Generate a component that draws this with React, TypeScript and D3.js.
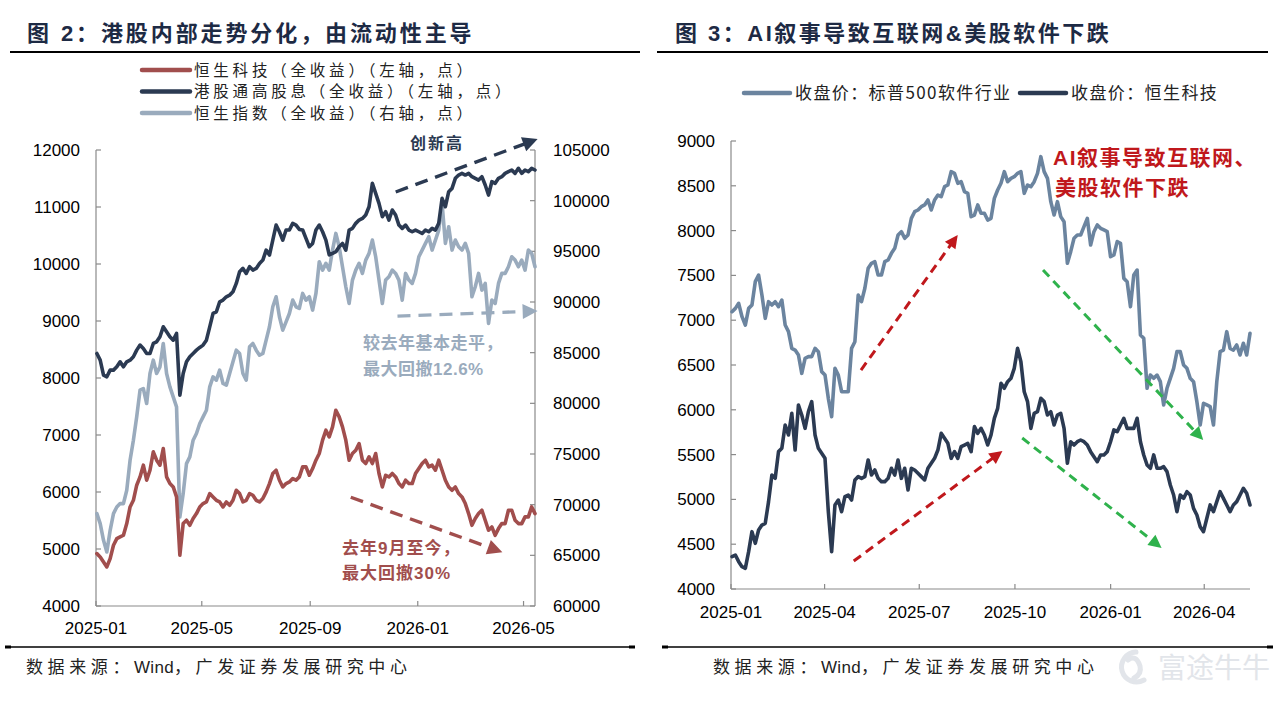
import React from 'react';
import * as d3 from 'd3';

// ---------- Left panel: Hang Seng family, total-return indices ----------
const leftStart = '2025-01-02';
const leftEnd = '2026-05-14';

// 恒生科技（全收益）, left axis
const hsTechTR = [
  4919, 4861, 4773, 4685, 4831, 5065, 5182, 5212, 5241, 5446,
  5738, 5855, 6119, 6265, 6470, 6207, 6382, 6704, 6558, 6470,
  6762, 6265, 6148, 6089, 5914, 4890, 5446, 5504, 5416, 5534,
  5621, 5738, 5797, 5826, 5972, 5914, 5855, 5826, 5738, 5826,
  5768, 5855, 6031, 5972, 5826, 5855, 5972, 5943, 5855, 5826,
  5885, 6002, 6148, 6324, 6382, 6207, 6089, 6148, 6177, 6236,
  6207, 6265, 6441, 6441, 6294, 6411, 6558, 6675,
  6909, 7084, 6967, 7143, 7435, 7318, 7143, 6909, 6558, 6675,
  6733, 6850, 6558, 6499, 6616, 6499, 6675, 6324, 6089, 6294,
  6265, 6324, 6265, 6148, 6089, 6207, 6148, 6148, 6324, 6411,
  6499, 6558, 6441, 6470, 6382, 6558, 6382, 6207, 6089, 6031,
  6089, 5972, 5914, 5797, 5621, 5416, 5534, 5621, 5680, 5504,
  5329, 5387, 5241, 5358, 5446, 5446, 5680, 5680, 5504, 5446,
  5446, 5563, 5563, 5738, 5621,
];

// 港股通高股息（全收益）, left axis
const hkHighDivTR = [
  8430, 8313, 8050, 8021, 8138, 8138, 8196, 8284, 8196, 8284,
  8313, 8372, 8489, 8577, 8518, 8430, 8430, 8606, 8635, 8723,
  8898, 8811, 8723, 8664, 8781, 7699, 8079, 8284, 8372, 8430,
  8489, 8536, 8577, 8664, 8898, 9133, 9162, 9337, 9367, 9425,
  9454, 9513, 9659, 9864, 9923, 9835, 9952, 9893, 9923, 10010,
  10069, 10244, 10157, 10420, 10683, 10566, 10420, 10596, 10596, 10713,
  10683, 10607, 10596, 10449, 10303, 10361, 10596, 10683,
  10566, 10420, 10160, 10186, 10215, 10303, 10361, 10244, 10596, 10625,
  10713, 10771, 10800, 10859, 11005, 11415, 11239, 11064, 10830, 10917,
  10771, 10947, 10859, 10683, 10625, 10683, 10596, 10566, 10596, 10566,
  10537, 10596, 10566, 10625, 10596, 10713, 11151, 11005, 11269, 11327,
  11503, 11561, 11590, 11561, 11590, 11532, 11503, 11473, 11532, 11386,
  11210, 11444, 11415, 11503, 11532, 11590, 11620, 11649, 11590, 11678,
  11590, 11649, 11620, 11678, 11649,
];

// 恒生指数（全收益）, right axis
const hsiTR = [
  69117, 68130, 66484, 65331, 67471, 69117, 69776, 70105, 70105, 71422,
  74384, 76360, 78664, 81298, 81462, 79981, 82944, 84260, 82944, 83602,
  85906, 82944, 81627, 80639, 79652, 68788, 71093, 74055, 74713, 76360,
  77018, 78006, 78664, 79322, 81627, 82614, 82285, 83273, 81956, 81791,
  82944, 84096, 85248, 84919, 82944, 82285, 85577, 85906, 85248, 84754,
  84919, 86236, 87552, 89528, 90515, 88540, 87223, 88046, 88869, 90186,
  89528, 89363, 90844, 90186, 90515, 89198, 90844, 93972,
  93149, 93807, 93149, 95124, 96770, 95453, 93478, 91503, 89857, 92161,
  93149, 93807, 92820, 94136, 94795, 96112, 94466, 92161, 89857, 92161,
  92490, 93149, 92820, 92161, 90186, 92820, 92161, 91832, 92820, 94466,
  95124, 95782, 96441, 95124, 96112, 97099, 99733, 95782, 97428, 95124,
  96112, 95453, 95124, 95782, 94795, 90515, 91503, 92820, 91174, 91832,
  87882, 90186, 89857, 91832, 92820, 92820, 93478, 94466, 94136, 93478,
  94136, 93149, 95124, 94795, 93478,
];

const leftXTicks = ['2025-01', '2025-05', '2025-09', '2026-01', '2026-05'];
const leftYTicks = [4000, 5000, 6000, 7000, 8000, 9000, 10000, 11000, 12000];
const leftY2Ticks = [60000, 65000, 70000, 75000, 80000, 85000, 90000, 95000, 100000, 105000];

const leftLegend = [
  '恒生科技（全收益）（左轴，点）',
  '港股通高股息（全收益）（左轴，点）',
  '恒生指数（全收益）（右轴，点）',
];

// ---------- Right panel: closing prices ----------
const rightStart = '2025-01-02';
const rightEnd = '2026-05-15';

// 收盘价：标普500软件行业
const spSoftwareClose = [
  7095, 7132, 7188, 7039, 6946, 7132, 7170, 7430, 7504, 7281,
  7021, 7207, 7170, 7207, 7151, 7225, 6946, 6872, 6686, 6667,
  6612, 6407, 6574, 6593, 6593, 6686, 6649, 6426, 6388, 6128,
  5923, 6463, 6388, 6202, 6202, 6202, 6686, 6760, 7281, 7207,
  7356, 7579, 7635, 7653, 7504, 7504, 7653, 7672, 7746, 7802,
  7951, 7988, 7914, 7951, 8137, 8211, 8230, 8267, 8286, 8342,
  8230, 8342, 8397, 8379, 8490, 8509, 8658, 8639, 8528, 8546,
  8435, 8416, 8156, 8174, 8286, 8193, 8193, 8118,
  8137, 8360, 8453, 8528, 8658, 8546, 8583, 8602, 8639, 8658,
  8416, 8509, 8490, 8546, 8639, 8825, 8658, 8583, 8323, 8174,
  8323, 8156, 8100, 7635, 7765, 7914, 7951, 7951, 8044, 8137,
  7839, 7988, 8063, 8025, 8007, 7988, 7709, 7728, 7877, 7858,
  7467, 7430, 7151, 7504, 7560, 6835, 6798, 6240, 6388, 6351,
  6388, 6314, 6054, 6240, 6351, 6463, 6649, 6649, 6500, 6463,
  6351, 6314, 6091, 5830, 6072, 6054, 6035, 5830, 6314, 6649,
  6667, 6872, 6686, 6667, 6723, 6612, 6742, 6612, 6853,
];

// 收盘价：恒生科技
const hsTechClose = [
  4361, 4379, 4305, 4249, 4231, 4417, 4640, 4510, 4659, 4714,
  4733, 4975, 5272, 5235, 5533, 5570, 5830, 5719, 5961, 5551,
  6054, 5942, 5793, 5979, 6091, 5719, 5570, 5514, 5458, 4863,
  4417, 4938, 4993, 4863, 5031, 5049, 4993, 5217, 5254, 5235,
  5254, 5440, 5272, 5328, 5235, 5198, 5198, 5235, 5347, 5272,
  5440, 5235, 5347, 5105, 5347, 5328, 5291, 5254, 5217, 5347,
  5403, 5458, 5551, 5737, 5682, 5626, 5458, 5533, 5458, 5589,
  5607, 5626, 5533, 5812, 5737, 5793, 5719, 5607,
  5719, 5905, 6016, 6295, 6240, 6314, 6351, 6463, 6686, 6537,
  6202, 6091, 5793, 5961, 5979, 6128, 6091, 5942, 5979, 5830,
  5942, 5961, 5793, 5403, 5644, 5607, 5644, 5663, 5644, 5607,
  5533, 5477, 5421, 5496, 5496, 5533, 5644, 5775, 5756, 5830,
  5905, 5793, 5793, 5793, 5905, 5644, 5496, 5384, 5347, 5496,
  5347, 5347, 5365, 5310, 5161, 5049, 4863, 5049, 5012, 5086,
  5049, 4900, 4826, 4696, 4640, 4789, 4938, 4863, 4975, 5086,
  5012, 4938, 4863, 4938, 4975, 5049, 5123, 5068, 4938,
];

const rightXTicks = ['2025-01', '2025-04', '2025-07', '2025-10', '2026-01', '2026-04'];
const rightYTicks = [4000, 4500, 5000, 5500, 6000, 6500, 7000, 7500, 8000, 8500, 9000];
const rightLegend = ['收盘价：标普500软件行业', '收盘价：恒生科技'];

// Trend arrows, anchored in (date, value) space of each panel's left axis
const leftArrows = [
  { from: ['2025-12-07', 11263], to: ['2026-05-17', 12193], key: 'high' },
  { from: ['2025-12-09', 9086], to: ['2026-05-17', 9174], key: 'flat' },
  { from: ['2025-10-17', 5908], to: ['2026-04-07', 4943], key: 'down' },
] as const;

const rightArrows = [
  { from: ['2025-05-06', 6444], to: ['2025-08-07', 7951], key: 'up' },
  { from: ['2025-04-29', 4312], to: ['2025-09-19', 5540], key: 'up' },
  { from: ['2025-10-28', 7560], to: ['2026-03-31', 5663], key: 'fall' },
  { from: ['2025-10-08', 5685], to: ['2026-02-19', 4458], key: 'fall' },
] as const;

// ---------- helpers ----------
const parseDay = d3.timeParse('%Y-%m-%d');
const parseMonth = d3.timeParse('%Y-%m');

function spreadDates(start: string, end: string, n: number): Date[] {
  const t0 = parseDay(start)!.getTime();
  const t1 = parseDay(end)!.getTime();
  return d3.range(n).map((i) => new Date(t0 + ((t1 - t0) * i) / (n - 1)));
}

const FONT = "'Liberation Sans', Arial, 'Noto Sans CJK SC', sans-serif";
const CJK = "'Noto Sans CJK SC', 'Liberation Sans', sans-serif";

const C = {
  navy: '#2b3a52',
  red: '#a14e4d',
  gray: '#9aabbd',
  steel: '#6b849f',
  axis: '#8a8a8a',
  title: '#1d2a44',
  arrowRed: '#c0181c',
  green: '#2fb24c',
  text: '#222222',
};

function DashArrow(props: {
  x1: number; y1: number; x2: number; y2: number;
  color: string; width: number; dash: string; head: number; headW: number;
}) {
  const { x1, y1, x2, y2, color, width, dash, head, headW } = props;
  const dx = x2 - x1;
  const dy = y2 - y1;
  const len = Math.hypot(dx, dy);
  const ux = dx / len;
  const uy = dy / len;
  const bx = x2 - ux * head;
  const by = y2 - uy * head;
  const px = -uy * headW;
  const py = ux * headW;
  return (
    <g>
      <line x1={x1} y1={y1} x2={bx + ux * 2} y2={by + uy * 2} stroke={color} strokeWidth={width} strokeDasharray={dash} />
      <polygon points={`${x2},${y2} ${bx + px},${by + py} ${bx - px},${by - py}`} fill={color} />
    </g>
  );
}

function Rule({ x1, x2, y, w }: { x1: number; x2: number; y: number; w: number }) {
  return <line x1={x1} x2={x2} y1={y} y2={y} stroke="#000" strokeWidth={w} />;
}

// Source line: CJK glyphs spaced out, the Latin word kept tight
function SourceNote({ x, y }: { x: number; y: number }) {
  return (
    <text x={x} y={y} fontFamily={FONT} fontSize={17} fill={C.text}>
      <tspan letterSpacing={4.6}>数据来源：</tspan>
      <tspan letterSpacing={0.3}>Wind</tspan>
      <tspan letterSpacing={4.6}>，广发证券发展研究中心</tspan>
    </text>
  );
}

function LeftPanel() {
  const dates = spreadDates(leftStart, leftEnd, hsTechTR.length);
  const x = d3.scaleTime().domain([parseDay('2025-01-01')!, parseDay('2026-05-14')!]).range([96, 535]);
  const y = d3.scaleLinear().domain([4000, 12000]).range([606, 150]);
  const y2 = d3.scaleLinear().domain([60000, 105000]).range([606, 150]);

  const lineL = d3.line<number>().x((_, i) => x(dates[i])).y((d) => y(d));
  const lineR = d3.line<number>().x((_, i) => x(dates[i])).y((d) => y2(d));

  const arrowColor: Record<string, string> = { high: C.navy, flat: C.gray, down: C.red };
  const [x0, x1] = x.range();
  const [yb, yt] = y.range();

  return (
    <g>
      {/* title */}
      <text x={27} y={41} fontFamily={FONT} fontSize={22} fontWeight={700} fill={C.title} letterSpacing={2.9}>
        图 2：港股内部走势分化，由流动性主导
      </text>
      <Rule x1={10} x2={640} y={52} w={2.2} />

      {/* legend */}
      {leftLegend.map((label, i) => {
        const cy = 70 + i * 21.5;
        const col = [C.red, C.navy, C.gray][i];
        return (
          <g key={label}>
            <line x1={142} x2={190} y1={cy} y2={cy} stroke={col} strokeWidth={4.5} strokeLinecap="round" />
            <text x={194} y={cy + 5.5} fontFamily={CJK} fontSize={15.5} fill={C.text} letterSpacing={3.8}>
              {label}
            </text>
          </g>
        );
      })}

      {/* axes */}
      <g stroke={C.axis} strokeWidth={1.2} fill="none">
        <line x1={x0} x2={x0} y1={yt} y2={yb} />
        <line x1={x1} x2={x1} y1={yt} y2={yb} />
        <line x1={x0} x2={x1} y1={yb} y2={yb} />
        {leftYTicks.map((t) => (
          <line key={'l' + t} x1={x0} x2={x0 + 5} y1={y(t)} y2={y(t)} />
        ))}
        {leftY2Ticks.map((t) => (
          <line key={'r' + t} x1={x1 - 5} x2={x1} y1={y2(t)} y2={y2(t)} />
        ))}
        {leftXTicks.map((t) => {
          const xx = x(parseMonth(t)!);
          return <line key={'x' + t} x1={xx} x2={xx} y1={yb - 5} y2={yb} />;
        })}
      </g>
      <g fontFamily={FONT} fontSize={17} fill="#000">
        {leftYTicks.map((t) => (
          <text key={'lt' + t} x={80} y={y(t) + 6} textAnchor="end">{t}</text>
        ))}
        {leftY2Ticks.map((t) => (
          <text key={'rt' + t} x={553} y={y2(t) + 6}>{t}</text>
        ))}
        {leftXTicks.map((t) => (
          <text key={'xt' + t} x={x(parseMonth(t)!)} y={634} textAnchor="middle">{t}</text>
        ))}
      </g>

      {/* series */}
      <g fill="none" strokeWidth={3.6} strokeLinejoin="round" strokeLinecap="round">
        <path d={lineR(hsiTR) || ''} stroke={C.gray} />
        <path d={lineL(hsTechTR) || ''} stroke={C.red} />
        <path d={lineL(hkHighDivTR) || ''} stroke={C.navy} />
      </g>

      {/* annotations */}
      {leftArrows.map((a) => (
        <DashArrow
          key={a.key}
          x1={x(parseDay(a.from[0])!)} y1={y(a.from[1])}
          x2={x(parseDay(a.to[0])!)} y2={y(a.to[1])}
          color={arrowColor[a.key]} width={3.4} dash="13 8" head={15} headW={7.5}
        />
      ))}
      <text x={410} y={149} fontFamily={CJK} fontSize={16} fontWeight={700} fill={C.navy} letterSpacing={2}>创新高</text>
      <g fontFamily={FONT} fontSize={17} fontWeight={700} fill={C.gray}>
        <text x={363} y={349} letterSpacing={0.5}>较去年基本走平，</text>
        <text x={363} y={375} letterSpacing={0.5}>最大回撤12.6%</text>
      </g>
      <g fontFamily={FONT} fontSize={17} fontWeight={700} fill={C.red}>
        <text x={342} y={554} letterSpacing={1}>去年9月至今，</text>
        <text x={342} y={579} letterSpacing={1}>最大回撤30%</text>
      </g>

      {/* footer */}
      <Rule x1={5} x2={635} y={647} w={1.5} />
      <rect x={5} y={645.5} width={6} height={3} fill="#000" />
      <rect x={629} y={645.5} width={6} height={3} fill="#000" />
      <SourceNote x={26} y={673} />
    </g>
  );
}

function RightPanel() {
  const dates = spreadDates(rightStart, rightEnd, spSoftwareClose.length);
  const x = d3.scaleTime().domain([parseDay('2025-01-01')!, parseDay('2026-05-15')!]).range([731, 1250]);
  const y = d3.scaleLinear().domain([4000, 9000]).range([589, 141]);
  const line = d3.line<number>().x((_, i) => x(dates[i])).y((d) => y(d));

  const [x0, x1] = x.range();
  const [yb, yt] = y.range();
  const arrowColor: Record<string, string> = { up: C.arrowRed, fall: C.green };

  return (
    <g>
      <text x={675} y={41} fontFamily={FONT} fontSize={22} fontWeight={700} fill={C.title} letterSpacing={2.5}>
        图 3：AI叙事导致互联网&amp;美股软件下跌
      </text>
      <Rule x1={657} x2={1268} y={52} w={2.2} />

      {/* legend */}
      <line x1={744} x2={790} y1={93} y2={93} stroke={C.steel} strokeWidth={4.5} strokeLinecap="round" />
      <text x={795} y={99} fontFamily={CJK} fontSize={17} fill={C.text} letterSpacing={1.4}>{rightLegend[0]}</text>
      <line x1={1020} x2={1066} y1={93} y2={93} stroke={C.navy} strokeWidth={4.5} strokeLinecap="round" />
      <text x={1071} y={99} fontFamily={CJK} fontSize={17} fill={C.text} letterSpacing={1.4}>{rightLegend[1]}</text>

      {/* axes */}
      <g stroke={C.axis} strokeWidth={1.2} fill="none">
        <line x1={x0} x2={x0} y1={yt} y2={yb} />
        <line x1={x0} x2={x1} y1={yb} y2={yb} />
        {rightYTicks.map((t) => (
          <line key={'l' + t} x1={x0} x2={x0 + 5} y1={y(t)} y2={y(t)} />
        ))}
        {rightXTicks.map((t) => {
          const xx = x(parseMonth(t)!);
          return <line key={'x' + t} x1={xx} x2={xx} y1={yb - 5} y2={yb} />;
        })}
      </g>
      <g fontFamily={FONT} fontSize={17} fill="#000">
        {rightYTicks.map((t) => (
          <text key={'lt' + t} x={715} y={y(t) + 6} textAnchor="end">{t}</text>
        ))}
        {rightXTicks.map((t) => (
          <text key={'xt' + t} x={x(parseMonth(t)!)} y={618} textAnchor="middle">{t}</text>
        ))}
      </g>

      {/* series */}
      <g fill="none" strokeWidth={3.6} strokeLinejoin="round" strokeLinecap="round">
        <path d={line(spSoftwareClose) || ''} stroke={C.steel} />
        <path d={line(hsTechClose) || ''} stroke={C.navy} />
      </g>

      {/* annotations */}
      {rightArrows.map((a, i) => (
        <DashArrow
          key={i}
          x1={x(parseDay(a.from[0])!)} y1={y(a.from[1])}
          x2={x(parseDay(a.to[0])!)} y2={y(a.to[1])}
          color={arrowColor[a.key]} width={3} dash="9 6" head={13} headW={6.5}
        />
      ))}
      <g fontFamily={FONT} fontSize={21} fontWeight={700} fill={C.arrowRed} letterSpacing={1.5}>
        <text x={1053} y={165}>AI叙事导致互联网、</text>
        <text x={1055} y={195}>美股软件下跌</text>
      </g>

      {/* footer */}
      <Rule x1={662} x2={1273} y={647} w={1.5} />
      <rect x={662} y={645.5} width={6} height={3} fill="#000" />
      <rect x={1267} y={645.5} width={6} height={3} fill="#000" />
      <SourceNote x={713} y={673} />

      {/* watermark */}
      <g opacity={0.9}>
        <path d="M1136,652 a15,15 0 1,0 8,28 M1128,660 q8,-6 12,6 q2,8 -6,12" fill="none" stroke="#dfe3e8" strokeWidth={5} strokeLinecap="round" />
        <text x={1158} y={678} fontFamily={CJK} fontSize={28} fill="#dfe3e8">富途牛牛</text>
      </g>
    </g>
  );
}

export default function App() {
  return (
    <svg
      width={1287}
      height={705}
      viewBox="0 0 1287 705"
      style={{ position: 'absolute', left: 0, top: 0, background: '#fff' }}
    >
      <rect x={0} y={0} width={1287} height={705} fill="#fff" />
      <LeftPanel />
      <RightPanel />
    </svg>
  );
}
